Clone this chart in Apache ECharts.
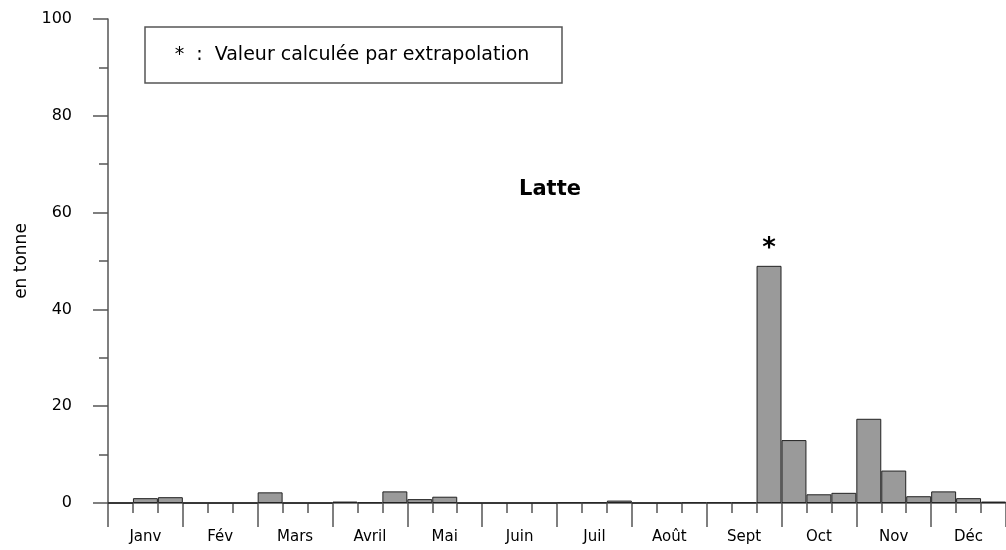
<!DOCTYPE html>
<html>
<head>
<meta charset="utf-8">
<script src="https://cdn.jsdelivr.net/npm/echarts@6/dist/echarts.min.js"></script>
<style>html,body{margin:0;padding:0;background:#fff}#c{width:1006px;height:550px}</style>
</head>
<body>
<div id="c"></div>
<script>
// Months (tick labels of the long ticks)
var months = ['Janv', 'Fév', 'Mars', 'Avril', 'Mai', 'Juin', 'Juil', 'Août', 'Sept', 'Oct', 'Nov', 'Déc'];
// Three decades per month
var decades = ['D1', 'D2', 'D3'];
// Values in tonnes, one per decade (36 values)
var janv  = [0, 1.0, 1.2];
var fev   = [0, 0, 0];
var mars  = [2.2, 0, 0];
var avril = [0.3, 0.1, 2.4];
var mai   = [0.8, 1.3, 0];
var juin  = [0, 0, 0];
var juil  = [0.1, 0.1, 0.5];
var aout  = [0, 0, 0.1];
var sept  = [0.1, 0.1, 49];
var oct   = [13, 1.8, 2.1];
var nov   = [17.4, 6.7, 1.4];
var dec   = [2.4, 1.0, 0.3];
var yTicks = [0, 20, 40, 60, 80, 100];
var extrapolated = [26]; // index of decade with extrapolated value (marked *)

var monthly = [janv, fev, mars, avril, mai, juin, juil, aout, sept, oct, nov, dec];
var cats = [], vals = [];
monthly.forEach(function (m, i) {
  m.forEach(function (v, j) {
    cats.push(months[i] + ' ' + decades[j]);
    vals.push(extrapolated.indexOf(cats.length - 1) >= 0 ?
      {value: v, label: {show: true, position: 'top', formatter: '*', fontSize: 26, fontWeight: 'bold', color: '#000', distance: 4}} : v);
  });
});

var font = '"Comic Sans MS", "DejaVu Sans", sans-serif';
var axisColor = '#555';
var chart = echarts.init(document.getElementById('c'));
chart.setOption({
  animation: false,
  textStyle: {fontFamily: font},
  grid: {left: 108, top: 19, height: 484, width: 904},
  xAxis: [{
    type: 'category', data: cats, boundaryGap: true,
    axisLine: {show: true, lineStyle: {color: axisColor, width: 1.5}},
    axisTick: {show: true, interval: 0, length: 10, lineStyle: {color: axisColor, width: 1.5}},
    axisLabel: {show: false}, splitLine: {show: false}
  }, {
    type: 'category', data: months, boundaryGap: true, position: 'bottom',
    axisLine: {show: false},
    axisTick: {show: true, interval: 0, length: 24, lineStyle: {color: axisColor, width: 1.5}},
    axisLabel: {show: true, interval: 0, margin: 27, fontSize: 15, color: '#000', fontFamily: font},
    splitLine: {show: false}
  }],
  yAxis: {
    type: 'value', min: yTicks[0], max: yTicks[yTicks.length - 1], interval: 20,
    name: 'en tonne', nameLocation: 'middle', nameGap: 74, nameRotate: 90,
    nameTextStyle: {fontSize: 17, color: '#000', fontFamily: font},
    axisLine: {show: true, lineStyle: {color: axisColor, width: 1.5}},
    axisTick: {show: true, length: 15, lineStyle: {color: axisColor, width: 1.5}},
    minorTick: {show: true, splitNumber: 2, length: 9, lineStyle: {color: axisColor, width: 1.5}},
    axisLabel: {margin: 36, fontSize: 16, color: '#000', fontFamily: font},
    splitLine: {show: false}
  },
  series: [{
    type: 'bar', data: vals, xAxisIndex: 0, barCategoryGap: '0%', barGap: '0%',
    itemStyle: {color: '#9a9a9a', borderColor: '#222', borderWidth: 1}
  }],
  graphic: [
    {type: 'rect', shape: {x: 145, y: 27, width: 417, height: 56},
     style: {fill: '#fff', stroke: '#555', lineWidth: 1.5}},
    {type: 'text', x: 352, y: 55,
     style: {text: '*  :  Valeur calculée par extrapolation', fontSize: 19, fontFamily: font,
       fill: '#000', align: 'center', verticalAlign: 'middle'}},
    {type: 'text', x: 550, y: 190,
     style: {text: 'Latte', fontSize: 21, fontWeight: 'bold', fontFamily: font,
       fill: '#000', align: 'center', verticalAlign: 'middle'}}
  ]
});
</script>
</body>
</html>
